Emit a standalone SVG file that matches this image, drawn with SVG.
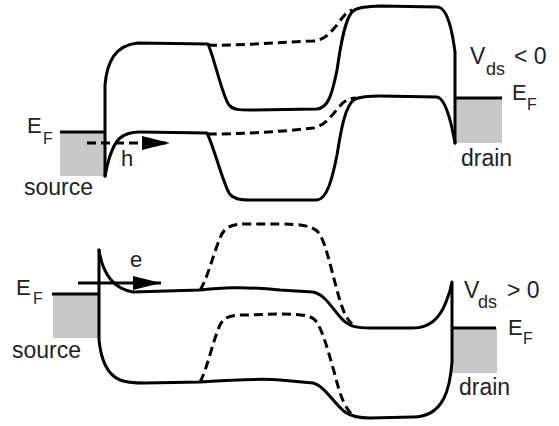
<svg xmlns="http://www.w3.org/2000/svg" width="559" height="426" viewBox="0 0 559 426">
<style>
.band{fill:none;stroke:#000;stroke-width:3;stroke-linejoin:round;stroke-linecap:round}
.dash{fill:none;stroke:#000;stroke-width:3;stroke-dasharray:9 5}
.ef{stroke:#000;stroke-width:3}
.fill{fill:#c8c8c8}
.t{font-family:"Liberation Sans",Arial,sans-serif;fill:#222;font-size:23px}
.e{font-size:22px}
.sub{font-size:16px}
.ds{font-size:18px}
.arr{stroke:#000;stroke-width:3;fill:none}
</style>
<defs>
<marker id="ah" markerUnits="userSpaceOnUse" markerWidth="28" markerHeight="14" refX="28" refY="7" orient="auto">
<path d="M0,0 L28,7 L0,14 z" fill="#000"/>
</marker>
</defs>
<rect width="559" height="426" fill="#fff"/>

<g id="top-panel">
  <g id="top-source">
    <rect class="fill" x="60" y="132" width="45" height="44"/>
    <line class="ef" x1="60" y1="132" x2="105" y2="132"/>
    <text class="t e" x="27" y="133">E</text>
    <text class="t sub" x="43" y="144">F</text>
    <text class="t" x="24" y="195">source</text>
  </g>
  <g id="top-drain">
    <rect class="fill" x="456" y="98" width="46" height="45"/>
    <line class="ef" x1="455" y1="98" x2="502" y2="98"/>
    <text class="t e" x="512" y="100">E</text>
    <text class="t sub" x="527" y="110">F</text>
    <text class="t" x="461" y="166">drain</text>
    <text class="t" x="470" y="64">V</text>
    <text class="t ds" x="486" y="75">ds</text>
    <text class="t" x="514" y="64">&lt; 0</text>
  </g>
  <g id="top-bands">
    <path class="band" d="M105,176 L105,85 C107,62 115,45 138,43 L208,44 C215,60 222,95 229,105 C233,110 240,110 250,110 L317,109 C328,108 332,95 337,70 C341,42 345,20 352,12 C357,7 365,7 380,6 L438,7 C446,8 451,25 454,45 L455,52 L455,143"/>
    <path class="band" d="M105,176 C108,160 112,145 120,138 C126,133 132,132 140,132 L207,133 C214,147 222,180 229,193 C233,199 240,200 250,200 L317,200 C327,199 332,180 337,155 C341,130 345,105 355,99 C360,97 370,96 380,96 L437,97 C444,98 449,115 452,128 L455,143"/>
    <path class="dash" d="M208,45 C230,46 270,43 313,41 C325,40 330,33 337,25 C342,18 346,12 352,10"/>
    <path class="dash" d="M208,134 C240,134 280,132 313,128 C325,126 332,115 340,106 C345,100 350,98 356,98"/>
  </g>
  <g id="hole-arrow">
    <line class="arr" x1="87" y1="143" x2="170" y2="143" stroke-dasharray="9 5" marker-end="url(#ah)"/>
    <text class="t e" x="121" y="166">h</text>
  </g>
</g>

<g id="bottom-panel">
  <g id="bottom-source">
    <rect class="fill" x="53" y="294" width="46" height="44"/>
    <line class="ef" x1="52" y1="294" x2="99" y2="294"/>
    <text class="t e" x="16" y="295">E</text>
    <text class="t sub" x="33" y="304">F</text>
    <text class="t" x="12" y="358">source</text>
  </g>
  <g id="bottom-drain">
    <rect class="fill" x="452" y="328" width="45" height="45"/>
    <line class="ef" x1="451" y1="328" x2="496" y2="328"/>
    <text class="t e" x="508" y="335">E</text>
    <text class="t sub" x="523" y="344">F</text>
    <text class="t" x="459" y="395">drain</text>
    <text class="t" x="464" y="298">V</text>
    <text class="t ds" x="478" y="308">ds</text>
    <text class="t" x="507" y="298">&gt; 0</text>
  </g>
  <g id="bottom-bands">
    <path class="band" d="M99,250 C102,270 110,288 133,292 L200,290 C220,288 240,286 280,290 L313,292 C325,294 333,310 343,320 C350,327 358,328 370,328 L413,328 C430,328 440,318 446,302 C449,295 451,288 452,282 L452,362"/>
    <path class="band" d="M99,250 L99,340 C101,360 108,375 120,380 C127,383 135,383 145,383 L200,382 C230,380 260,378 280,380 L313,383 C325,386 335,405 345,412 C352,417 360,418 370,418 L413,417 C428,417 438,410 444,398 C449,388 451,375 452,362"/>
    <path class="dash" d="M200,290 C207,280 213,255 220,238 C224,228 230,224 245,224 L280,224 C300,224 313,226 318,232 C325,240 330,265 337,290 C341,305 345,318 352,324"/>
    <path class="dash" d="M200,382 C207,370 213,340 220,325 C224,317 230,315 245,315 L280,314 C300,314 310,315 315,320 C322,328 328,350 335,375 C340,395 345,410 355,417"/>
  </g>
  <g id="electron-arrow">
    <line class="arr" x1="78" y1="283" x2="161" y2="283" marker-end="url(#ah)"/>
    <text class="t e" x="130" y="267">e</text>
  </g>
</g>
</svg>
